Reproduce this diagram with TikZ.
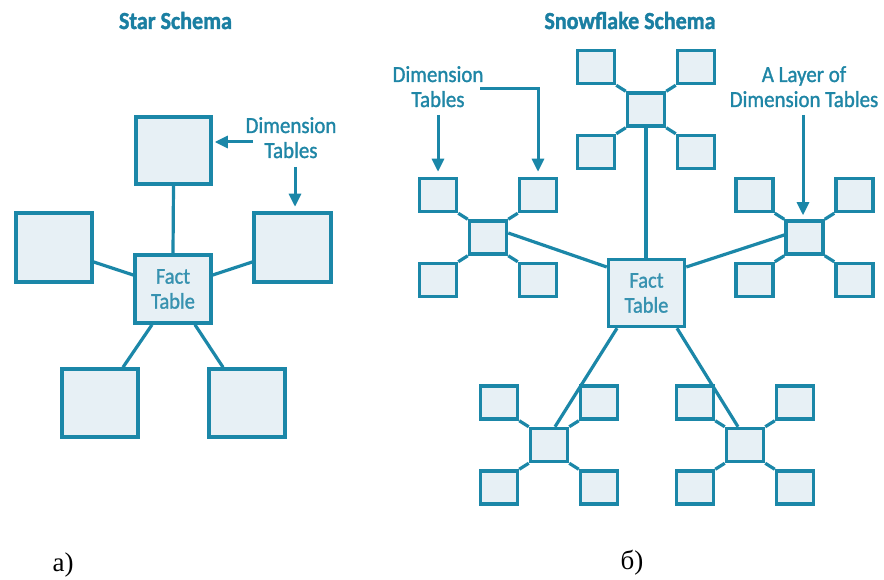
\documentclass[tikz,border=0pt]{standalone}
\usepackage{fontspec}
\setmainfont{Carlito}
\newfontfamily\labelfont{Carlito}[RawFeature={embolden=1.2;extend=0.91}]
\newfontfamily\titlefont{Carlito}[RawFeature={embolden=1.5;extend=0.9}]
\newfontfamily\captionserif{Liberation Serif}
\usetikzlibrary{arrows.meta,calc}

\definecolor{schemaline}{HTML}{1B87A8}
\definecolor{schemafill}{HTML}{E7F0F5}
\definecolor{schematext}{HTML}{1F86A6}
\definecolor{facttext}{HTML}{3792B0}
\definecolor{schematitle}{HTML}{1A7FA2}

\tikzset{
  tbox/.style={draw=schemaline, fill=schemafill, line width=3.5pt, inner sep=0pt, rectangle,
               text=facttext, align=center, font=\labelfont\fontsize{22.5}{25}\selectfont},
  link/.style={draw=schemaline, line width=3.2pt},
  pointer/.style={draw=schemaline, line width=3pt, -{Triangle[length=13pt,width=12pt]}},
  lbl/.style={text=schematext, font=\labelfont\fontsize{23}{25}\selectfont, align=center, inner sep=0pt, anchor=base},
  ttl/.style={text=schematitle, font=\titlefont\bfseries\fontsize{24.5}{26}\selectfont, inner sep=0pt, anchor=base},
  subcap/.style={font=\captionserif\fontsize{27}{30}\selectfont, inner sep=0pt, anchor=base},
}

% \tbl{name}{cx}{cy}{w}{h}{text}: a table box centred at (cx,cy)
\newcommand\tbl[6]{\node[tbox, minimum width=#4pt, minimum height=#5pt] (#1) at (#2,#3) {#6};}

% \flake{name}{cx}{cy}: a small table with four sub-tables on its corners
\newcommand\flake[3]{%
  \tbl{#1}{#2}{#3}{37}{33}{}
  \tbl{#1-nw}{#2-50}{#3-42.5}{37}{33}{}
  \tbl{#1-ne}{#2+50}{#3-42.5}{37}{33}{}
  \tbl{#1-sw}{#2-50}{#3+42.5}{37}{33}{}
  \tbl{#1-se}{#2+50}{#3+42.5}{37}{33}{}
  \draw[link] (#1-nw.south east) -- (#1.north west);
  \draw[link] (#1-ne.south west) -- (#1.north east);
  \draw[link] (#1-sw.north east) -- (#1.south west);
  \draw[link] (#1-se.north west) -- (#1.south east);
}

\begin{document}
\begin{tikzpicture}[x=1pt, y=-1pt]
  \fill[white] (0,0) rectangle (884,580);
  \useasboundingbox (0,0) rectangle (884,580);

  % ---------- star schema ----------
  \node[ttl] (startitle) at (175.5,29) {Star Schema};

  \tbl{sf}{173}{289}{76}{68}{Fact\\Table}
  \tbl{st}{173.5}{150.5}{75}{67}{}
  \tbl{sl}{54}{247.5}{76}{69}{}
  \tbl{sr}{292.5}{247.5}{77}{69}{}
  \tbl{sbl}{100}{403}{76}{68}{}
  \tbl{sbr}{247}{403}{76}{68}{}

  \draw[link] (st.south) -- (sf.north);
  \draw[link] ([yshift=-14.5pt]sl.east) -- ([yshift=14pt]sf.west);
  \draw[link] ([yshift=-14.5pt]sr.west) -- ([yshift=14pt]sf.east);
  \draw[link] ([xshift=-21pt]sf.south) -- ([xshift=23pt]sbl.north);
  \draw[link] ([xshift=22pt]sf.south) -- ([xshift=-24pt]sbr.north);

  % base anchor of a two-line label sits on its last line
  \node[lbl] (starlbl) at (291,158) {Dimension\\Tables};
  \coordinate (sa1) at (253,142);
  \coordinate (sa2) at (295,167);
  \draw[pointer] (sa1) -- ([xshift=2pt,yshift=8.5pt]st.east);
  \draw[pointer, shorten >=4.5pt] (sa2) -- (sa2 |- sr.north);

  \node[subcap] (capa) at (63,571) {a)};

  % ---------- snowflake schema ----------
  \node[ttl] (snowtitle) at (630,29) {Snowflake Schema};

  \tbl{ff}{646.5}{293}{76}{67}{Fact\\Table}
  \flake{tc}{646}{109.5}
  \flake{lc}{488}{237.5}
  \flake{rc}{804.5}{237.5}
  \flake{bl}{549}{445}
  \flake{br}{745}{445}

  \draw[link] (tc.south) -- (tc.south |- ff.north);
  \draw[link] ([yshift=4.5pt]lc.east) -- ([yshift=26pt]ff.west);
  \draw[link] ([yshift=2.5pt]rc.west) -- ([yshift=26pt]ff.east);
  \draw[link] ([xshift=-29.5pt]ff.south) -- ([xshift=6pt]bl.north);
  \draw[link] ([xshift=30.5pt]ff.south) -- ([xshift=-7pt]br.north);

  \node[lbl] (snowlbl) at (438,107) {Dimension\\Tables};
  \node[lbl] (layerlbl) at (804,107) {A Layer of\\Dimension Tables};
  \coordinate (fa1) at (438,115);
  \coordinate (fa2) at (480,89);
  \coordinate (fa3) at (803,115);
  \draw[pointer, shorten >=5pt] (fa1) -- (fa1 |- lc-nw.north);
  \draw[pointer, shorten >=5pt] (fa2) -| (lc-ne.north);
  \draw[pointer, shorten >=4pt] (fa3) -- (fa3 |- rc.north);

  \node[subcap] (capb) at (632,569) {б)};
\end{tikzpicture}
\end{document}
